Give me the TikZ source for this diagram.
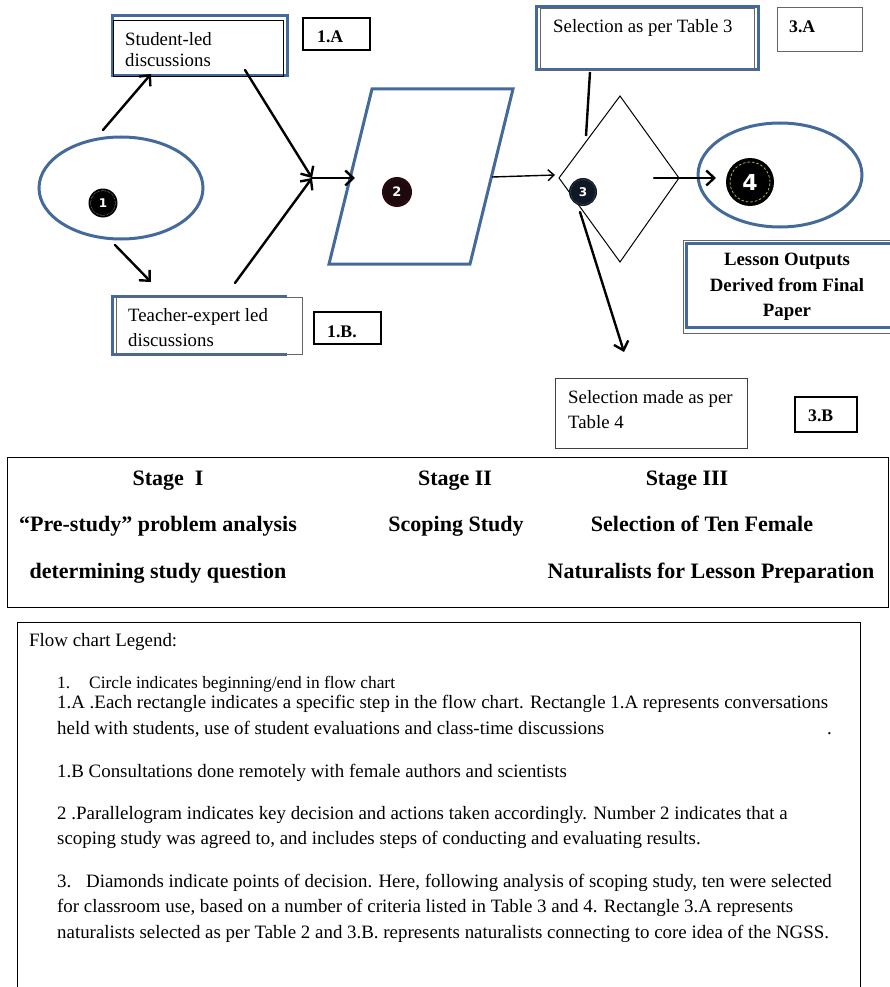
\documentclass[tikz,border=0pt]{standalone}
\usepackage{fontspec}
\setmainfont{Liberation Serif}
\newfontfamily\numfont{DejaVu Sans}
\usetikzlibrary{arrows.meta}
\definecolor{bblue}{RGB}{68,106,156}
\begin{document}
\begin{tikzpicture}[x=1pt,y=-1pt,
  bluebox/.style={draw=bblue,line width=3pt},
  graybox/.style={draw=black!60,line width=0.9pt},
  lblbox/.style={draw=black,line width=2pt},
  arr/.style={line width=2.4pt,line cap=round,-{Straight Barb[length=8pt,width=15pt,line width=2.4pt]}},
  thinarr/.style={line width=1.4pt,-{Straight Barb[length=6pt,width=11pt,line width=1.4pt]}},
  txt/.style={inner sep=0pt,anchor=base west,font=\fontsize{18.8}{21}\selectfont},
  lbl/.style={inner sep=0pt,anchor=base west,font=\fontsize{17.7}{20}\selectfont\bfseries},
  btxt/.style={inner sep=0pt,anchor=base,font=\fontsize{18.8}{21}\selectfont\bfseries},
  stg/.style={inner sep=0pt,anchor=base,font=\fontsize{22}{24}\selectfont\bfseries},
  leg/.style={inner sep=0pt,anchor=base west,font=\fontsize{18.9}{21}\selectfont},
  numc/.style={circle,inner sep=0pt,text=white,font=\numfont\bfseries},
]
\useasboundingbox (0,0) rectangle (889,987);

% ---- top-left rectangles
\draw[bluebox] (112,16) rectangle (287,76);
\draw[graybox,draw=black] (113,20) rectangle (283,76);
\node[txt] (sl1) at (125,46) {Student-led};
\node[txt] (sl2) at (125,67) {discussions};
\draw[lblbox] (303,18) rectangle (370,50);
\node[lbl] (l1a) at (317,43) {1.A};

\draw[bluebox] (287,296) -- (112,296) -- (112,354) -- (287,354);
\draw[graybox] (116,297) rectangle (302,354);
\node[txt] (te1) at (128,321) {Teacher-expert led};
\node[txt] (te2) at (128,346) {discussions};
\draw[lblbox] (314,312) rectangle (381,344);
\node[lbl] (l1b) at (327,337) {1.B.};

% ---- ellipse 1
\draw[draw=bblue,line width=3pt] (121,188) ellipse [x radius=82pt,y radius=51pt];
\node[numc,fill=black,minimum size=29pt,font=\numfont\bfseries\fontsize{12}{12}\selectfont] (c1) at (103,203) {1};
\draw[white!60!gray,densely dotted,line width=0.5pt] (c1.center) circle (12.5pt);

% ---- parallelogram 2
\draw[draw=bblue,line width=3pt,line join=miter] (372,89) -- (513,89) -- (470,264) -- (329,264) -- cycle;
\node[numc,fill={rgb,255:red,28;green,10;blue,14},minimum size=30pt,font=\numfont\bfseries\fontsize{13}{13}\selectfont] (c2) at (397,192) {2};
\draw[red!50!black,densely dotted,line width=0.6pt] (c2.center) circle (13.5pt);

% ---- diamond 3
\draw[line width=1pt] (620,96) -- (679,178) -- (620,262) -- (559,178) -- cycle;
\node[numc,fill={rgb,255:red,14;green,24;blue,38},minimum size=28pt,font=\numfont\bfseries\fontsize{12}{12}\selectfont] (c3) at (583,192) {3};
\draw[gray,densely dotted,line width=0.5pt] (c3.center) circle (12.5pt);

% ---- ellipse 4
\draw[draw=bblue,line width=3pt] (780,175) ellipse [x radius=82pt,y radius=52pt];
\node[numc,fill=black,minimum size=48pt,font=\numfont\bfseries\fontsize{22}{22}\selectfont] (c4) at (750,182) {4};
\draw[yellow!70!green!80!black,line width=0.8pt,dash pattern=on 2.5pt off 2pt] (c4.center) circle (20pt);

% ---- right boxes
\draw[bluebox] (536,7) rectangle (758,70);
\draw[graybox] (540,8) rectangle (754,70);
\node[txt] (s3) at (553,33) {Selection as per Table 3};
\draw[graybox] (777,7) rectangle (862,51);
\node[lbl] (l3a) at (789,33) {3.A};

\draw[graybox] (683,240) rectangle (892,333);
\draw[bluebox] (686,243) rectangle (892,327);
\node[btxt] (lo1) at (787,265) {Lesson Outputs};
\node[btxt] (lo2) at (787,291) {Derived from Final};
\node[btxt] (lo3) at (787,316) {Paper};

\draw[graybox,draw=black!75] (555,378) rectangle (747,448);
\node[txt] (s41) at (568,403) {Selection made as per};
\node[txt] (s42) at (568,428) {Table 4};
\draw[lblbox] (795,397) rectangle (857,432);
\node[lbl] (l3b) at (808,421) {3.B};

% ---- connectors
\coordinate (e1top) at (103,130);
\coordinate (slbot) at (151,74);
\coordinate (e1bot) at (115,245);
\coordinate (tetop) at (151,282);
\coordinate (slout) at (245,70);
\coordinate (teout) at (235,283);
\coordinate (junc) at (312,178);
\coordinate (pin) at (355,178);
\coordinate (pout) at (492,177);
\coordinate (din) at (555,175);
\coordinate (s3bot) at (590,72);
\coordinate (dtop) at (586,136);
\coordinate (dout) at (654,178);
\coordinate (e4in) at (716,178);
\coordinate (c3out) at (580,212);
\coordinate (s4top) at (624,352);

\draw[arr] (e1top) -- (slbot);
\draw[arr] (e1bot) -- (tetop);
\draw[arr] (slout) -- (junc);
\draw[arr] (teout) -- (junc);
\draw[arr] (junc) -- (pin);
\draw[thinarr] (pout) -- (din);
\draw[line width=2.4pt] (s3bot) -- (dtop);
\draw[arr] (dout) -- (e4in);
\draw[arr] (c3out) -- (s4top);

% ---- stage box
\draw[line width=0.9pt] (7,457) rectangle (888,607);
\node[stg] (st1) at (168,485) {Stage\ \ I};
\node[stg] (st1b) at (158,531) {``Pre-study'' problem analysis};
\node[stg] (st1c) at (158,578) {determining study question};
\node[stg] (st2) at (455,485) {Stage II};
\node[stg] (st2b) at (456,531) {Scoping Study};
\node[stg] (st3) at (687,485) {Stage III};
\node[stg] (st3b) at (702,531) {Selection of Ten Female};
\node[stg] (st3c) at (711,578) {Naturalists for Lesson Preparation};

% ---- legend
\draw[line width=0.9pt] (17,995) -- (17,622) -- (860,622) -- (860,995);
\node[leg] (g0) at (29,646) {Flow chart Legend:};
\node[leg,font=\fontsize{17.4}{19}\selectfont] (g1n) at (57,688) {1.};
\node[leg,font=\fontsize{17.4}{19}\selectfont] (g1) at (89,688) {Circle indicates beginning/end in flow chart};
\node[leg] (g2) at (57,708) {1.A .Each rectangle indicates a specific step in the flow chart. Rectangle 1.A represents conversations};
\node[leg] (g3) at (57,734) {held with students, use of student evaluations and class-time discussions};
\node[leg] (g3d) at (827,734) {.};
\node[leg] (g4) at (57,777) {1.B Consultations done remotely with female authors and scientists};
\node[leg] (g5) at (57,819) {2 .Parallelogram indicates key decision and actions taken accordingly. Number 2 indicates that a};
\node[leg] (g6) at (57,844) {scoping study was agreed to, and includes steps of conducting and evaluating results.};
\node[leg] (g7n) at (57,887) {3.};
\node[leg] (g7) at (86,887) {Diamonds indicate points of decision. Here, following analysis of scoping study, ten were selected};
\node[leg] (g8) at (57,912) {for classroom use, based on a number of criteria listed in Table 3 and 4. Rectangle 3.A represents};
\node[leg] (g9) at (57,938) {naturalists selected as per Table 2 and 3.B. represents naturalists connecting to core idea of the NGSS.};
\end{tikzpicture}
\end{document}
